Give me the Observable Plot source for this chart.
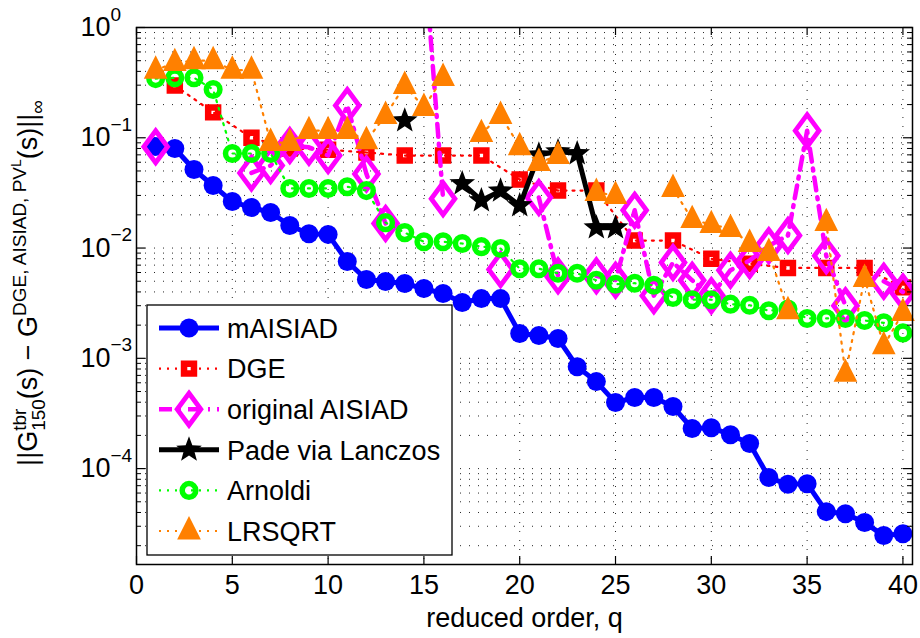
<!DOCTYPE html>
<html><head><meta charset="utf-8">
<script src="https://cdn.jsdelivr.net/npm/d3@7"></script>
<script src="https://cdn.jsdelivr.net/npm/@observablehq/plot@0.6"></script>
<style>
html,body{margin:0;padding:0;background:#fff;}
#chart svg{display:block;}
</style></head><body><div id="chart"></div>
<script>
// ---------- data ----------
const q = [1,2,3,4,5,6,7,8,9,10,11,12,13,14,15,16,17,18,19,20,21,22,23,24,25,26,27,28,29,30,31,32,33,34,35,36,37,38,39,40];
const mAISIAD = [0.0833,0.080,0.0515,0.0369,0.0264,0.0233,0.0210,0.0160,0.0135,0.0133,0.00755,0.00518,0.00497,0.00477,0.00429,0.00387,0.00321,0.00348,0.00348,0.00168,0.00161,0.00151,0.00084,0.000615,0.000397,0.000441,0.000441,0.000365,0.000231,0.000235,0.000203,0.000169,0.000083,0.000072,0.000073,0.0000407,0.000039,0.0000324,0.0000247,0.0000257];
const dgeQ = [2,4,6,8,10,12,14,16,18,20,22,24,26,28,30,32,34,36,38,40];
const dge = [0.298,0.17,0.10,0.08,0.078,0.0735,0.069,0.069,0.069,0.0418,0.0332,0.0332,0.0117,0.0117,0.008,0.0072,0.0066,0.0066,0.0066,0.0044];
const aisiad = [0.083,null,null,null,null,0.048,0.056,0.085,0.082,0.069,0.196,0.047,0.0167,null,5,0.028,null,null,0.0064,null,0.0287,0.0056,null,0.0056,0.0051,0.022,0.0037,0.0074,0.0051,0.0037,0.0063,0.0077,0.0105,0.013,0.116,0.0085,0.003,null,0.005,0.004];
const pade = [null,null,null,null,null,null,null,null,null,null,null,null,null,0.143,null,null,0.0385,0.027,0.033,0.0243,0.07,0.075,0.072,0.0153,0.0153,null,null,null,null,null,null,null,null,null,null,null,null,null,null,null];
const arnoldi = [0.344,0.35,0.35,0.274,0.072,0.072,0.072,0.0347,0.0347,0.0347,0.036,0.0332,0.017,0.0138,0.0114,0.0114,0.011,0.0103,0.0099,0.0065,0.0065,0.0059,0.0059,0.0051,0.0047,0.0048,0.0046,0.00356,0.0034,0.0034,0.0031,0.00303,0.0027,0.0028,0.0023,0.0023,0.0023,0.0022,0.0021,0.0017];
const lrsqrt = [0.41,0.48,0.50,0.50,0.41,0.41,0.0905,0.0905,0.116,0.116,0.116,0.094,0.159,0.298,0.188,0.352,null,0.109,0.159,0.083,0.0597,0.069,null,0.0319,0.030,null,null,0.0346,0.0181,0.0163,0.0150,0.011,0.0091,0.0027,null,0.017,0.00073,0.00529,0.0013,0.0026];
const seriesNames = ["mAISIAD","DGE","original AISIAD","Pade via Lanczos","Arnoldi","LRSQRT"];
const xTicks = [0,5,10,15,20,25,30,35,40];
const yTicks = [1,0.1,0.01,0.001,0.0001];
const yTickBase = "10";
const yTickExp = ["0","\u22121","\u22122","\u22123","\u22124"];
const xLabel = "reduced order, q";

// ---------- layout ----------
const W = 920, H = 638;
const mL = 136, mR = 8, mT = 27, mB = 74;
const fW = W - mL - mR, fH = H - mT - mB;
const FONT = "'Liberation Sans', Arial, Helvetica, sans-serif";
const C = {blue:"#0000ff", red:"#ff0000", mag:"#ff00ff", black:"#000000", green:"#00ff00", orange:"#ff8000"};

// minor grid values
const yMinor = [];
for (let k = -5; k <= -1; k++) for (let m = 2; m <= 9; m++) { const v = m * Math.pow(10, k); if (v > 1.35e-5 && v < 1) yMinor.push(v); }
const yGrid = yMinor.concat(yTicks.slice(1));

// custom symbols (size = pi r^2)
const rad = s => Math.sqrt(s / Math.PI);
const diamondSym = {draw(c, s){ const r = rad(s), w = r*0.74; c.moveTo(0,-r); c.lineTo(w,0); c.lineTo(0,r); c.lineTo(-w,0); c.closePath(); }};
const starSym = {draw(c, s){ const r = rad(s), ri = r*0.42; for (let i = 0; i < 10; i++){ const a = -Math.PI/2 + i*Math.PI/5, rr = i%2 ? ri : r; const x = rr*Math.cos(a), y = rr*Math.sin(a); i ? c.lineTo(x,y) : c.moveTo(x,y);} c.closePath(); }};
const triSym = {draw(c, s){ const r = rad(s); c.moveTo(0,-r); c.lineTo(0.82*r,0.62*r); c.lineTo(-0.82*r,0.62*r); c.closePath(); }};

const rows = (xs, vs) => xs.map((x,i) => ({q:x, v:vs[i]}));
const def = a => a.filter(d => d.v != null);
const R = {
  blue: rows(q, mAISIAD), red: rows(dgeQ, dge), mag: rows(q, aisiad),
  black: rows(q, pade), green: rows(q, arnoldi), orange: rows(q, lrsqrt)
};

const grid = {stroke:"#000", strokeOpacity:0.85, strokeWidth:1, strokeDasharray:"1,8"};

const plot = Plot.plot({
  width: W, height: H,
  marginLeft: mL, marginRight: mR, marginTop: mT, marginBottom: mB,
  style: {fontFamily: FONT, background: "#fff", overflow: "visible"},
  x: {domain: [0, 40.5], axis: null},
  y: {type: "log", domain: [1.35e-5, 1], axis: null},
  marks: [
    Plot.ruleY(yGrid, {y: d => d, ...grid}),
    Plot.ruleX(xTicks.filter(d => d > 0), {x: d => d, ...grid}),
    // mAISIAD
    Plot.line(R.blue, {x:"q", y:"v", stroke:C.blue, strokeWidth:5}),
    Plot.dot(def(R.blue), {x:"q", y:"v", r:9.5, fill:C.blue}),
    // DGE
    Plot.line(R.red, {x:"q", y:"v", stroke:C.red, strokeWidth:2.2, strokeDasharray:"2,6"}),
    Plot.dot(def(R.red), {x:"q", y:"v", symbol:"square", r:5.6, stroke:C.red, strokeWidth:6.5, fill:"none"}),
    // original AISIAD
    Plot.line(R.mag, {x:"q", y:"v", stroke:C.mag, strokeWidth:4.5, strokeDasharray:"13,7,2,7", clip:true}),
    Plot.dot(def(R.mag), {x:"q", y:"v", symbol:diamondSym, r:16, stroke:C.mag, strokeWidth:4.8, fill:"none", clip:true}),
    // Pade via Lanczos
    Plot.line(R.black, {x:"q", y:"v", stroke:C.black, strokeWidth:5}),
    Plot.dot(def(R.black), {x:"q", y:"v", symbol:starSym, r:13.5, fill:C.black}),
    // Arnoldi
    Plot.line(R.green, {x:"q", y:"v", stroke:C.green, strokeWidth:2.2, strokeDasharray:"2,6"}),
    Plot.dot(def(R.green), {x:"q", y:"v", r:6.8, stroke:C.green, strokeWidth:5.5, fill:"none"}),
    // LRSQRT
    Plot.line(R.orange, {x:"q", y:"v", stroke:C.orange, strokeWidth:2.2, strokeDasharray:"2,6"}),
    Plot.dot(def(R.orange), {x:"q", y:"v", symbol:triSym, r:10, stroke:C.orange, fill:C.orange, strokeWidth:4.5, strokeLinejoin:"miter"}),
    // frame + inward ticks
    Plot.frame({stroke:"#000", strokeWidth:1.5}),
    Plot.ruleX(xTicks, {x: d => d, insetTop: fH - 8, stroke:"#000", strokeWidth:1.2}),
    Plot.ruleX(xTicks, {x: d => d, insetBottom: fH - 8, stroke:"#000", strokeWidth:1.2}),
    Plot.ruleY(yTicks, {y: d => d, insetRight: fW - 9, stroke:"#000", strokeWidth:1.2}),
    Plot.ruleY(yTicks, {y: d => d, insetLeft: fW - 9, stroke:"#000", strokeWidth:1.2}),
    Plot.ruleY(yMinor, {y: d => d, insetRight: fW - 5, stroke:"#000", strokeWidth:1}),
    Plot.ruleY(yMinor, {y: d => d, insetLeft: fW - 5, stroke:"#000", strokeWidth:1}),
    // tick labels
    Plot.text(xTicks, {x: d => d, text: d => String(d), frameAnchor:"bottom", dy: 21, fontSize: 27, lineAnchor:"middle", fill:"#000"}),
    Plot.text(yTicks, {y: d => d, text: () => yTickBase, frameAnchor:"left", dx: -56, textAnchor:"start", fontSize: 27, lineAnchor:"middle", fill:"#000"}),
    Plot.text(yTicks, {y: d => d, text: (d, i) => yTickExp[i], frameAnchor:"left", dx: -26, dy: -13, textAnchor:"start", fontSize: 19, lineAnchor:"middle", fill:"#000"}),
    Plot.text([xLabel], {text: d => d, frameAnchor:"bottom", dy: 54, fontSize: 27, lineAnchor:"middle", fill:"#000"})
  ]
});
document.getElementById("chart").append(plot);

const svg = d3.select(plot);

// ---------- y label ----------
const yl = svg.append("text")
  .attr("transform", "translate(37,283) rotate(-90)")
  .attr("text-anchor", "middle")
  .style("font-family", FONT).style("font-size", "27px").attr("fill", "#000");
yl.append("tspan").text("||G");
const tb = yl.append("tspan").style("font-size", "19px").attr("dy", -11).text("tbr");
const tbw = tb.node().getComputedTextLength();
yl.append("tspan").style("font-size", "19px").attr("dx", -tbw).attr("dy", 19).text("150");
yl.append("tspan").attr("dy", -8).text("(s) \u2212 G");
yl.append("tspan").style("font-size", "19px").attr("dy", -11).text("DGE, AISIAD, PV");
yl.append("tspan").style("font-size", "14px").attr("dy", -5).text("L");
yl.append("tspan").attr("dy", 16).text("(s)||");
yl.append("tspan").style("font-size", "19px").attr("dy", 7).text("\u221e");

// ---------- legend ----------
const lg = svg.append("g");
lg.append("rect").attr("x", 147).attr("y", 305).attr("width", 305).attr("height", 250)
  .attr("fill", "#fff").attr("stroke", "#000").attr("stroke-width", 1.3);
const legendStyles = [
  {stroke:C.blue, sw:5, dash:null, sym:d3.symbolCircle, r:9.5, fill:C.blue, mstroke:"none", msw:0},
  {stroke:C.red, sw:2.2, dash:"2,6", sym:d3.symbolSquare, r:5.6, fill:"none", mstroke:C.red, msw:6.5},
  {stroke:C.mag, sw:4.5, dash:"13,7,2,7", sym:diamondSym, r:16, fill:"none", mstroke:C.mag, msw:4.8},
  {stroke:C.black, sw:5, dash:null, sym:starSym, r:13.5, fill:C.black, mstroke:"none", msw:0},
  {stroke:C.green, sw:2.2, dash:"2,6", sym:d3.symbolCircle, r:6.8, fill:"none", mstroke:C.green, msw:5.5},
  {stroke:C.orange, sw:2.2, dash:"2,6", sym:triSym, r:10, fill:C.orange, mstroke:C.orange, msw:4.5}
];
seriesNames.forEach((name, i) => {
  const st = legendStyles[i];
  const y = 328 + i * 40.6;
  lg.append("line").attr("x1", 159).attr("x2", 219).attr("y1", y).attr("y2", y)
    .attr("stroke", st.stroke).attr("stroke-width", st.sw).attr("stroke-dasharray", st.dash);
  lg.append("path").attr("transform", `translate(189,${y})`)
    .attr("d", d3.symbol(st.sym, Math.PI * st.r * st.r)())
    .attr("fill", st.fill).attr("stroke", st.mstroke).attr("stroke-width", st.msw).attr("stroke-linejoin", "miter");
  lg.append("text").attr("x", 227).attr("y", y).attr("dy", "0.36em").attr("text-anchor", "start")
    .style("font-family", FONT).style("font-size", "27px").attr("fill", "#000").text(name);
});
</script></body></html>
